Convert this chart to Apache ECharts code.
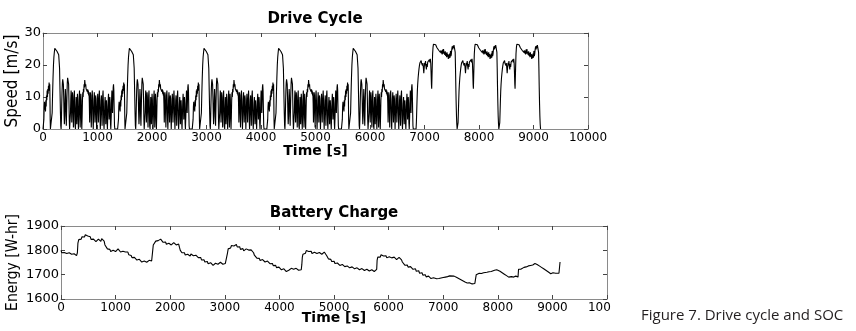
<!DOCTYPE html>
<html><head><meta charset="utf-8">
<script src="https://cdn.jsdelivr.net/npm/echarts@6/dist/echarts.min.js"></script>
<style>html,body{margin:0;padding:0;background:#fff}#c{width:856px;height:331px}</style>
</head><body><div id="c"></div>
<script>
// One urban (UDDS-like) cycle: [time within cycle (s), speed (m/s)]
const urbanCycle = [
[0,0],[10,0],[16,3],[22,7],[28,8.5],[34,6],[40,8],[46,5.5],[52,9],[58,7],[64,10.5],[70,9],[76,12],[82,10],[88,12.5],[94,11],[100,13.5],[106,12],[112,14.5],[118,13.2],[124,14],[128,9],[132,3],[136,0],[160,0],[168,5],[176,11],[184,16],[192,20],[200,22.5],[208,24],[216,25.2],[224,24.6],[232,25.3],[240,24.7],[248,25.1],[256,24.3],[264,24.6],[272,23.8],[280,23.9],[288,23.2],[296,22.6],[304,19],[312,12],[320,5],[326,1],[332,0],[338,3],[344,8],[350,12],[356,14.5],[362,15.5],[368,16],[374,14],[380,10],[386,5],[392,1.5],[398,4],[404,9],[410,12.5],[416,10],[422,4],[428,1],[434,6],[440,11],[446,14.5],[452,16],[458,15.5],[464,16],[470,14],[476,9],[482,3],[488,0],[498,0],[504,5],[510,9.5],[516,12],[522,8],[528,2],[534,7],[540,11.5],[546,10],[552,5],[558,0.5],[564,6],[570,10.5],[576,12],[582,7],[588,1],[596,0],[602,6],[608,10],[614,7],[620,1.5],[626,7],[632,11],[638,9],[644,3],[650,0],[658,5],[664,10],[670,12],[676,6],[682,0.5],[688,6],[694,11],[700,9],[706,3],[712,0],[718,4],[724,9],[730,11.5],[736,10],[742,12.5],[748,11.5],[754,14],[760,13],[766,15.3],[772,14.2],[778,13.3],[784,14],[790,12.6],[796,13.2],[802,12],[808,12.8],[814,11.6],[820,12.4],[826,11],[832,12],[838,10.5],[844,11.5],[850,8],[856,2],[862,7],[868,11.5],[874,10.5],[880,5],[886,0.5],[892,6],[898,10.5],[904,12],[910,9],[916,3],[922,0],[930,5],[936,9.5],[942,11.5],[948,8],[954,2],[960,7],[966,10.5],[972,9.5],[978,4],[984,0],[992,5],[998,9],[1004,11],[1010,8],[1016,2],[1022,6],[1028,10],[1034,12],[1040,9],[1046,3],[1052,0],[1060,5],[1066,9],[1072,10.5],[1078,6],[1084,1],[1090,6],[1096,10.5],[1102,12],[1108,8],[1114,2],[1120,0],[1128,4],[1134,8],[1140,10],[1146,7],[1152,1.5],[1158,6],[1164,9],[1170,7],[1176,2],[1182,0],[1190,5],[1196,9],[1202,11],[1208,8],[1214,3],[1220,7],[1226,10],[1232,8],[1238,2],[1244,0],[1252,4],[1258,9],[1264,12],[1270,10],[1276,5],[1282,9],[1288,13],[1294,14],[1300,12],[1306,6],[1312,1],[1318,0],[1369,0]
];
// One highway (HWFET-like) cycle: [time within cycle (s), speed (m/s)]
const highwayCycle = [
[0,0],[6,2],[12,5.5],[18,9],[24,12],[30,14],[38,16],[46,17.5],[54,18.8],[62,19.8],[70,20.6],[78,21.2],[86,20.7],[94,21.4],[102,20.5],[110,21.1],[118,19.8],[126,20.6],[134,19.2],[142,17.4],[150,19.3],[158,20.7],[166,19.9],[174,21.2],[182,19.6],[190,18.6],[198,20.3],[206,19.4],[214,20.9],[222,20.3],[230,21.4],[238,20.6],[246,21.7],[254,20.8],[262,21.9],[270,20.5],[276,17.5],[282,14],[287,12.6],[292,16],[298,20],[304,23.5],[312,25.6],[320,26.5],[328,26.8],[336,26.3],[344,26.6],[352,25.9],[360,26.3],[368,25.7],[376,26],[384,25.4],[392,25.8],[400,25],[408,25.4],[416,24.6],[424,25.1],[432,24.3],[440,24.8],[448,23.9],[456,24.6],[464,23.6],[472,24.4],[480,23.3],[488,24.8],[496,23.5],[504,25],[512,24],[520,24.6],[528,23.2],[536,24.3],[544,22.8],[552,23.8],[560,22.4],[568,24],[576,22.6],[584,23.4],[592,21.9],[600,23.2],[608,22.1],[616,23.6],[624,22.3],[632,24.4],[640,22.8],[648,23.5],[656,25],[664,25.8],[672,24.9],[680,26],[688,25.3],[696,26.2],[704,25.6],[712,26.1],[718,24],[724,19],[730,13],[736,8],[742,4],[748,1.5],[754,0],[765,0]
];
// Start times (s) of each repetition of the cycles in the drive schedule
const urbanStarts = [0, 1369, 2738, 4107, 5476];
const highwayStarts = [6845, 7610, 8375];

// Battery energy: [time (s), energy (W-hr)]
const batteryCharge = [
[0,1800],[15,1790],[30,1794],[45,1786],[60,1791],[75,1785],[90,1790],[105,1787],[120,1792],[135,1786],[150,1790],[165,1783],[180,1788],[195,1784],[210,1789],[225,1782],[240,1786],[255,1779],[270,1783],[285,1778],[300,1790],[310,1830],[325,1844],[340,1840],[355,1850],[370,1846],[385,1856],[400,1852],[415,1860],[430,1855],[445,1864],[460,1858],[475,1866],[490,1859],[505,1862],[520,1852],[535,1856],[550,1845],[565,1850],[580,1840],[595,1846],[610,1838],[625,1844],[640,1836],[655,1843],[670,1838],[685,1846],[700,1839],[715,1845],[730,1837],[745,1848],[760,1842],[775,1849],[790,1838],[805,1822],[820,1816],[835,1819],[850,1806],[865,1810],[880,1798],[895,1804],[910,1795],[925,1801],[940,1794],[955,1800],[970,1792],[985,1799],[1000,1795],[1015,1803],[1030,1797],[1045,1806],[1060,1798],[1075,1802],[1090,1793],[1105,1798],[1120,1790],[1135,1796],[1150,1791],[1165,1800],[1180,1793],[1195,1797],[1210,1789],[1225,1793],[1240,1782],[1255,1786],[1270,1776],[1285,1779],[1300,1770],[1315,1774],[1330,1766],[1345,1771],[1360,1763],[1375,1768],[1390,1760],[1405,1765],[1420,1758],[1435,1763],[1450,1755],[1465,1760],[1480,1752],[1495,1757],[1510,1750],[1525,1756],[1540,1752],[1555,1758],[1570,1751],[1585,1756],[1600,1753],[1615,1759],[1630,1755],[1645,1760],[1660,1756],[1672,1762],
[1680,1800],[1690,1822],[1705,1830],[1720,1826],[1735,1838],[1750,1834],[1765,1844],[1780,1840],[1795,1848],[1810,1842],[1825,1846],[1840,1838],[1855,1843],[1870,1833],[1885,1838],[1900,1828],[1915,1834],[1930,1825],[1945,1831],[1960,1823],[1975,1829],[1990,1821],[2005,1828],[2020,1822],[2035,1830],[2050,1824],[2065,1832],[2080,1825],[2095,1830],[2110,1822],[2125,1828],[2140,1820],[2155,1826],[2170,1812],[2185,1800],[2200,1797],[2215,1790],[2230,1794],[2245,1785],[2260,1790],[2275,1781],[2290,1786],[2305,1778],[2320,1784],[2335,1776],[2350,1782],[2365,1776],[2380,1785],[2395,1779],[2410,1786],[2425,1778],[2440,1783],[2455,1775],[2470,1780],[2485,1772],[2500,1777],[2515,1770],[2530,1775],[2545,1766],[2560,1770],[2575,1760],[2590,1765],[2605,1756],[2620,1761],[2635,1752],[2650,1757],[2665,1748],[2680,1754],[2695,1745],[2710,1751],[2725,1743],[2740,1749],[2755,1741],[2770,1746],[2785,1738],[2800,1743],[2815,1740],[2830,1747],[2845,1742],[2860,1748],[2875,1743],[2890,1750],[2905,1745],[2920,1751],[2935,1744],[2950,1749],[2965,1743],[2980,1748],[2995,1742],[3010,1746],[3030,1742],
[3040,1748],[3050,1790],[3062,1806],[3077,1802],[3092,1814],[3107,1810],[3122,1820],[3137,1816],[3152,1824],[3167,1818],[3182,1826],[3197,1820],[3212,1824],[3227,1814],[3242,1820],[3257,1810],[3272,1815],[3287,1804],[3302,1810],[3317,1801],[3332,1807],[3347,1798],[3362,1805],[3377,1799],[3392,1806],[3407,1800],[3422,1808],[3437,1801],[3452,1806],[3467,1797],[3482,1802],[3497,1794],[3512,1800],[3527,1790],[3542,1780],[3557,1775],[3572,1778],[3587,1768],[3602,1772],[3617,1762],[3632,1767],[3647,1758],[3662,1764],[3677,1756],[3692,1762],[3707,1754],[3722,1760],[3737,1752],[3752,1758],[3767,1750],[3782,1756],[3797,1748],[3812,1754],[3827,1745],[3842,1750],[3857,1741],[3872,1746],[3887,1737],[3902,1742],[3917,1733],[3932,1738],[3947,1729],[3962,1734],[3977,1726],[3992,1731],[4007,1723],[4022,1728],[4037,1720],[4052,1726],[4067,1718],[4082,1724],[4097,1716],[4112,1721],[4127,1713],[4142,1719],[4157,1712],[4172,1718],[4187,1710],[4202,1722],[4217,1726],[4232,1720],[4247,1727],[4262,1722],[4277,1728],[4292,1721],[4307,1726],[4322,1719],[4337,1724],[4352,1718],[4367,1722],[4385,1717],[4400,1720],
[4410,1740],[4420,1772],[4432,1784],[4447,1780],[4462,1792],[4477,1788],[4492,1799],[4507,1794],[4522,1802],[4537,1795],[4552,1799],[4567,1790],[4582,1796],[4597,1787],[4612,1793],[4627,1785],[4642,1792],[4657,1786],[4672,1794],[4687,1787],[4702,1793],[4717,1785],[4732,1791],[4747,1783],[4762,1790],[4777,1784],[4792,1792],[4807,1786],[4822,1793],[4837,1785],[4852,1789],[4867,1778],[4882,1772],[4897,1765],[4912,1769],[4927,1759],[4942,1763],[4957,1754],[4972,1758],[4987,1750],[5002,1755],[5017,1746],[5032,1751],[5047,1743],[5062,1748],[5077,1740],[5092,1746],[5107,1738],[5122,1744],[5137,1736],[5152,1742],[5167,1734],[5182,1740],[5197,1733],[5212,1738],[5227,1731],[5242,1736],[5257,1729],[5272,1735],[5287,1728],[5302,1733],[5317,1726],[5332,1732],[5347,1725],[5362,1731],[5377,1724],[5392,1729],[5407,1722],[5422,1728],[5437,1721],[5452,1727],[5467,1720],[5482,1726],[5497,1719],[5512,1725],[5527,1718],[5542,1724],[5557,1717],[5572,1723],[5587,1716],[5602,1722],[5617,1716],[5632,1721],[5647,1715],[5662,1720],[5677,1714],[5692,1720],[5707,1714],[5722,1719],[5737,1713],[5752,1718],[5770,1714],
[5782,1722],[5790,1760],[5802,1772],[5817,1768],[5832,1778],[5847,1772],[5862,1782],[5877,1776],[5892,1784],[5907,1777],[5922,1781],[5937,1772],[5952,1778],[5967,1769],[5982,1775],[5997,1767],[6012,1774],[6027,1768],[6042,1776],[6057,1769],[6072,1775],[6087,1766],[6102,1772],[6117,1764],[6132,1770],[6147,1762],[6162,1769],[6177,1763],[6192,1771],[6207,1764],[6222,1770],[6237,1761],[6252,1752],[6267,1745],[6282,1748],[6297,1739],[6312,1744],[6327,1735],[6342,1740],[6357,1731],[6372,1737],[6387,1728],[6402,1733],[6417,1725],[6432,1731],[6447,1722],[6462,1728],[6477,1719],[6492,1724],[6507,1714],[6522,1720],[6537,1710],[6552,1716],[6567,1706],[6582,1712],[6597,1702],[6612,1708],[6627,1698],[6642,1704],[6657,1695],[6672,1700],[6687,1691],[6702,1697],[6717,1689],[6732,1694],[6747,1686],[6762,1691],[6777,1684],[6792,1689],[6807,1682],[6822,1687],[6837,1681],[6850,1684],
[6880,1683],[6920,1684],[6960,1686],[7000,1688],[7040,1690],[7080,1692],[7120,1695],[7140,1697],[7145,1690],[7150,1699],[7160,1698],[7200,1694],[7250,1688],[7300,1682],[7350,1676],[7400,1670],[7440,1666],[7470,1663],[7480,1667],[7490,1660],[7510,1664],[7530,1662],[7545,1668],[7560,1658],[7580,1664],[7595,1662],[7605,1700],[7620,1704],[7660,1706],[7700,1705],[7740,1708],[7760,1704],[7770,1710],[7800,1710],[7840,1712],[7880,1713],[7890,1706],[7900,1716],[7940,1718],[7980,1720],[8000,1718],[8040,1714],[8080,1708],[8120,1702],[8160,1696],[8200,1690],[8230,1686],[8250,1692],[8270,1684],[8290,1690],[8310,1686],[8330,1694],[8350,1688],[8370,1690],[8380,1722],[8400,1724],[8420,1722],[8440,1728],[8480,1730],[8520,1732],[8540,1726],[8560,1736],[8600,1738],[8640,1740],[8660,1744],[8680,1746],[8720,1742],[8760,1736],[8800,1730],[8840,1724],[8880,1718],[8920,1712],[8950,1710],[8970,1704],[8990,1712],[9010,1708],[9040,1714],[9060,1706],[9090,1710],[9120,1706],[9138,1708],[9140,1752]
];

// Build the full drive schedule from the repeated cycles
const speed = [];
urbanStarts.forEach(s => urbanCycle.forEach(p => speed.push([s + p[0], p[1]])));
highwayStarts.forEach(s => highwayCycle.forEach(p => speed.push([s + p[0], p[1]])));

const FRAME = '#8a8a8a', TICK = '#444';
const tickFont = 'DejaVu Sans';
const plain = v => String(v);
function xAxis(grid, pos, name, nameGap) {
  const a = {
    gridIndex: grid, type: 'value', min: 0, max: 10000, interval: 1000, position: pos,
    axisLine: { show: true, onZero: false, lineStyle: { color: FRAME, width: 1 } },
    axisTick: { show: true, inside: true, length: 4, lineStyle: { color: TICK } },
    axisLabel: { show: pos === 'bottom', formatter: plain, fontFamily: tickFont, fontSize: 12, color: '#000', margin: 3 },
    splitLine: { show: false }
  };
  if (name) {
    a.name = name; a.nameLocation = 'middle'; a.nameGap = nameGap; a.nameMoveOverlap = false;
    a.nameTextStyle = { fontFamily: 'DejaVu Sans', fontWeight: 'bold', fontSize: 14, color: '#000' };
  }
  return a;
}
function yAxis(grid, pos, min, max, interval, name, nameGap, nameSize) {
  const a = {
    gridIndex: grid, type: 'value', min: min, max: max, interval: interval, position: pos,
    axisLine: { show: true, onZero: false, lineStyle: { color: FRAME, width: 1 } },
    axisTick: { show: true, inside: true, length: 4, lineStyle: { color: TICK } },
    axisLabel: { show: pos === 'left', formatter: plain, fontFamily: tickFont, fontSize: 13, color: '#000', margin: 2 },
    splitLine: { show: false }
  };
  if (name) {
    a.name = name; a.nameLocation = 'middle'; a.nameGap = nameGap; a.nameMoveOverlap = false;
    a.nameTextStyle = { fontFamily: '"Liberation Sans Narrow", "DejaVu Sans Condensed", sans-serif', fontSize: nameSize, color: '#000' };
  }
  return a;
}

const chart = echarts.init(document.getElementById('c'), null, { renderer: 'canvas' });
chart.setOption({
  animation: false,
  backgroundColor: '#fff',
  grid: [
    { left: 43, top: 33, width: 545, height: 96, containLabel: false, outerBoundsMode: 'none' },
    { left: 61, top: 226, width: 546, height: 73, containLabel: false, outerBoundsMode: 'none' }
  ],
  xAxis: [
    xAxis(0, 'bottom', 'Time [s]', 15), xAxis(0, 'top'),
    xAxis(1, 'bottom', 'Time [s]', 12), xAxis(1, 'top')
  ],
  yAxis: [
    yAxis(0, 'left', 0, 30, 10, 'Speed [m/s]', 22, 17), yAxis(0, 'right', 0, 30, 10),
    yAxis(1, 'left', 1600, 1900, 100, 'Energy [W-hr]', 40, 15.5), yAxis(1, 'right', 1600, 1900, 100)
  ],
  series: [
    { type: 'line', xAxisIndex: 0, yAxisIndex: 0, data: speed, showSymbol: false, silent: true,
      lineStyle: { color: '#000', width: 1.1 } },
    { type: 'line', xAxisIndex: 2, yAxisIndex: 2, data: batteryCharge, showSymbol: false, silent: true,
      lineStyle: { color: '#000', width: 1.1 } }
  ],
  graphic: [
    { type: 'text', x: 315, y: 19, z: 10, style: { text: 'Drive Cycle', font: 'bold 15px "DejaVu Sans"', fill: '#000', align: 'center', verticalAlign: 'middle' } },
    { type: 'text', x: 334, y: 213, z: 10, style: { text: 'Battery Charge', font: 'bold 15px "DejaVu Sans"', fill: '#000', align: 'center', verticalAlign: 'middle' } },
    { type: 'rect', z: 100, shape: { x: 610.5, y: 300, width: 29, height: 13 }, style: { fill: '#fff' } },
    { type: 'text', x: 641, y: 316, z: 101, style: { text: 'Figure 7. Drive cycle and SOC', font: '15px "Open Sans"', fill: '#231f20', align: 'left', verticalAlign: 'middle' } }
  ]
});
</script></body></html>
